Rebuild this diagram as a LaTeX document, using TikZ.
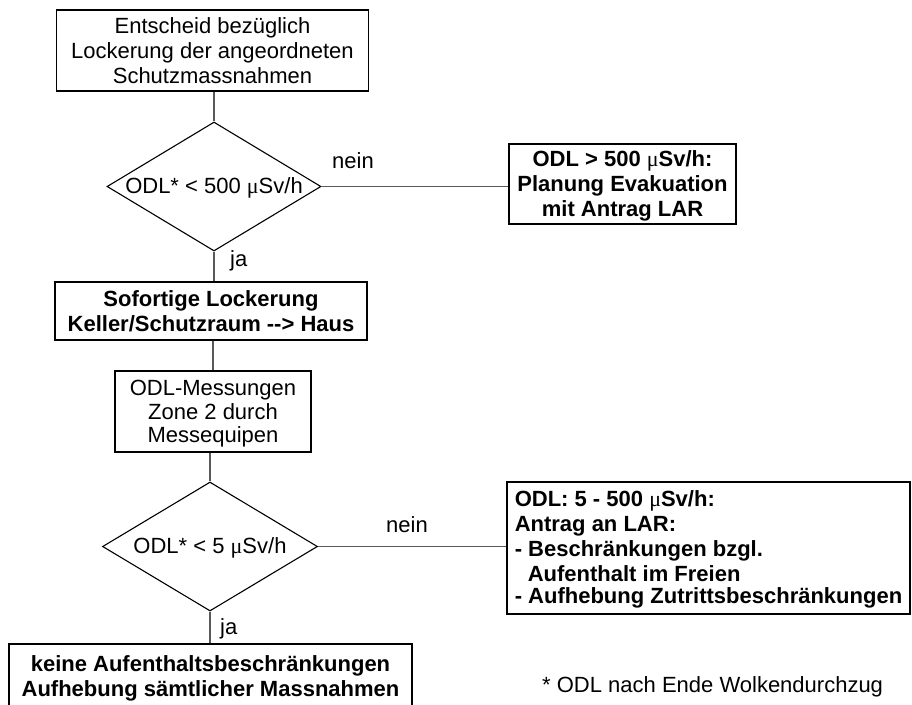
\documentclass[tikz,border=0pt]{standalone}
\usepackage{fontspec}
\setmainfont{Liberation Sans}
\newfontfamily\mufont{Liberation Serif}
\usetikzlibrary{shapes.geometric}
\newcommand{\mymu}{{\mufont\mdseries μ}}
\newcommand{\ls}{\rule[-3.4pt]{0pt}{22.5pt}}
\newcommand{\fs}{\fontsize{22}{22.5}\selectfont}
\tikzset{
  box/.style={draw=black, line width=1.2pt, rectangle, inner sep=0pt, align=center, font=\fs},
  bbox/.style={box, font=\fs\bfseries},
  dia/.style={draw=black, diamond, inner sep=0pt, line width=1.1pt},
  txt/.style={inner sep=0pt, font=\fs},
  conn/.style={draw=black!65, line width=1.1pt},
  lbl/.style={inner sep=0pt, font=\fs, anchor=base west}
}
\begin{document}
\begin{tikzpicture}[x=1pt,y=-1pt]
\useasboundingbox (0,0) rectangle (912,704);
\clip (0,0) rectangle (912,704);
\fill[white] (0,0) rectangle (912,704);

\node[box, minimum width=311.5pt, minimum height=81pt] (b1) at (212.5,50.5)
  {\ls Entscheid bezüglich\\\ls Lockerung der angeordneten\\\ls Schutzmassnahmen};
\node[dia, minimum width=214pt, minimum height=129pt] (d1) at (214,186.5) {};
\node[txt] (d1t) at (d1.center) {\ls ODL* < 500 \mymu Sv/h};
\node[bbox, minimum width=227pt, minimum height=80pt] (r1) at (622.5,184)
  {\ls ODL > 500 \mymu Sv/h:\\\ls Planung Evakuation\\\ls mit Antrag LAR};
\node[bbox, minimum width=312pt, minimum height=58pt] (b2) at (211,311)
  {\ls Sofortige Lockerung\\\ls Keller/Schutzraum -{}-{}> Haus};
\node[box, minimum width=196pt, minimum height=81pt] (b3) at (213,411.5)
  {\ls ODL-Messungen\\\ls Zone 2 durch\\\ls Messequipen};
\node[dia, minimum width=215pt, minimum height=129pt] (d2) at (210,546.5) {};
\node[txt] (d2t) at (d2.center) {\ls ODL* < 5 \mymu Sv/h};
\node[bbox, align=left, minimum width=403pt, minimum height=132pt] (r2) at (708.5,548)
  {\ls ODL: 5 - 500 \mymu Sv/h:\\\ls Antrag an LAR:\\\ls - Beschränkungen bzgl.\\\ls\hspace*{13pt}Aufenthalt im Freien\\\ls - Aufhebung Zutrittsbeschränkungen};
\node[bbox, minimum width=403pt, minimum height=64.8pt] (b4) at (210.5,676.4)
  {\ls keine Aufenthaltsbeschränkungen\\\ls Aufhebung sämtlicher Massnahmen};

\draw[conn] (b1.south -| d1.north) -- (d1.north);
\draw[conn] (d1.east) -- (d1.east -| r1.west);
\draw[conn] (d1.south) -- (d1.south |- b2.north);
\draw[conn] (b3.north |- b2.south) -- (b3.north);
\draw[conn] (d2.north |- b3.south) -- (d2.north);
\draw[conn] (d2.east) -- (d2.east -| r2.west);
\draw[conn] (d2.south) -- (d2.south |- b4.north);

\node[lbl] (n1) at (332,168) {nein};
\node[lbl] (j1) at (230,266) {ja};
\node[lbl] (n2) at (386,532) {nein};
\node[lbl] (j2) at (220,634) {ja};
\node[lbl] (fn) at (542,692) {* ODL nach Ende Wolkendurchzug};
\end{tikzpicture}
\end{document}
